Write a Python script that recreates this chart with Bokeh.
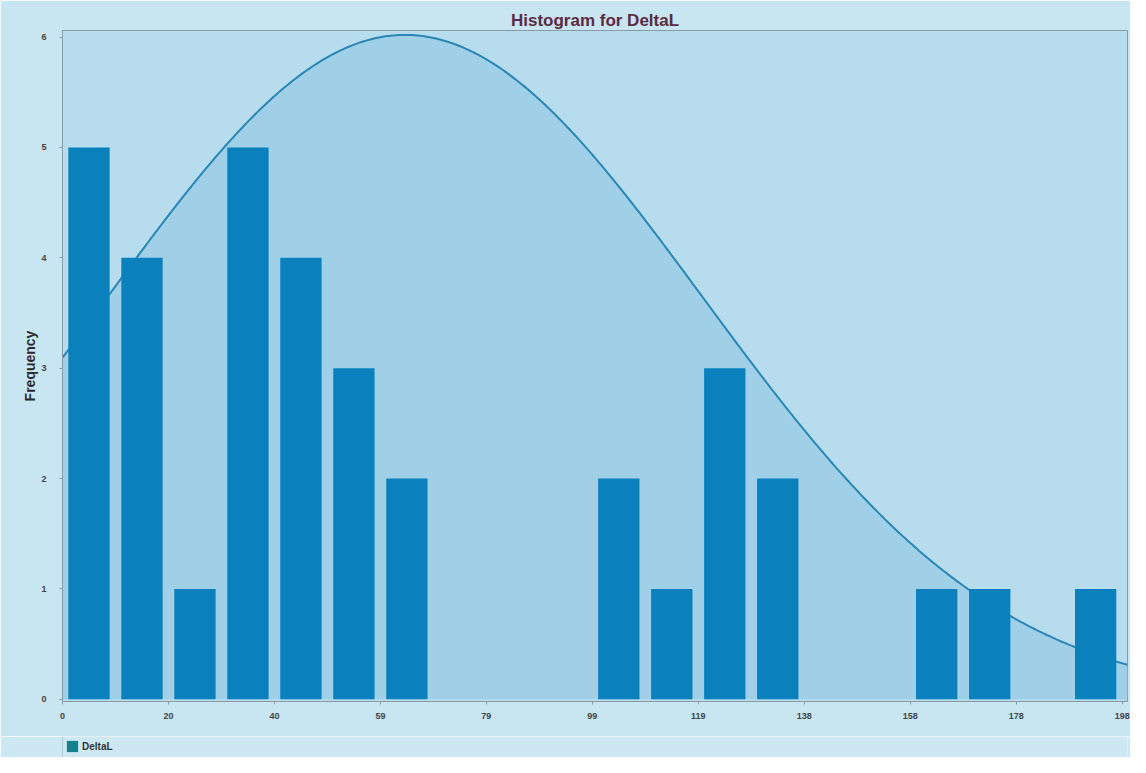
import numpy as np
from bokeh.plotting import figure
from bokeh.layouts import column
from bokeh.models import FixedTicker, Legend, LegendItem, Range1d, Title
from bokeh.embed import file_html
from bokeh.resources import INLINE

# ---- data ----
bin_width = 9.9
counts = [5, 4, 1, 5, 4, 3, 2, 0, 0, 0, 2, 1, 3, 2, 0, 0, 1, 1, 0, 1]
x_tick_values = [0, 19.8, 39.6, 59.4, 79.2, 99, 118.8, 138.6, 158.4, 178.2, 198]
x_tick_labels = ["0", "20", "40", "59", "79", "99", "119", "138", "158", "178", "198"]
y_tick_values = [0, 1, 2, 3, 4, 5, 6]
# fitted normal curve (as drawn)
curve_mean = 64.0
curve_sd = 55.5
curve_peak = 6.02
series_name = "DeltaL"

bin_left = [i * bin_width for i in range(len(counts))]
bin_center = [b + bin_width / 2 for b in bin_left]

cx = np.linspace(0, 199, 400)
cy = curve_peak * np.exp(-((cx - curve_mean) ** 2) / (2 * curve_sd ** 2))

BORDER = "#c8e6f2"
STRIP = "#cde8f3"

p = figure(width=1130, height=736, output_backend="svg", toolbar_location=None,
           x_range=Range1d(0, 199), y_range=Range1d(-0.02, 6.06),
           min_border_left=62, min_border_right=3, min_border_top=30, min_border_bottom=35)

p.background_fill_color = "#b7dcee"
p.border_fill_color = BORDER
p.outline_line_color = "#8a9aa4"
p.outline_line_width = 1
p.xgrid.visible = False
p.ygrid.visible = False

t = Title(text="Histogram for DeltaL", align="center", text_font="Liberation Sans",
          text_font_size="17px", text_font_style="bold", text_color="#5a2b3e",
          offset=0, standoff=2)
p.add_layout(t, "above")

# area under the fitted curve
p.varea(x=cx, y1=0, y2=cy, fill_color="#a0d0e7", fill_alpha=1.0)
p.line(cx, cy, line_color="#2a86b5", line_width=2)

# bars
bars = p.vbar(x=bin_center, top=counts, width=bin_width * 0.78, bottom=0,
              fill_color="#0a80bd", line_color=None)

# axes
p.xaxis.ticker = FixedTicker(ticks=x_tick_values)
p.xaxis.major_label_overrides = {v: l for v, l in zip(x_tick_values, x_tick_labels)}
p.yaxis.ticker = FixedTicker(ticks=y_tick_values)
for ax in (p.xaxis, p.yaxis):
    ax.axis_line_color = "#8a9aa4"
    ax.major_tick_line_color = "#8a9aa4"
    ax.major_tick_out = 3
    ax.major_tick_in = 0
    ax.minor_tick_line_color = None
    ax.major_label_text_font = "Liberation Sans"
    ax.major_label_text_font_size = "9px"
    ax.major_label_text_font_style = "bold"
    ax.major_label_text_color = "#444444"
p.xaxis.major_label_standoff = 8
p.yaxis.major_label_standoff = 13
p.yaxis.axis_label = "Frequency"
p.yaxis.axis_label_text_font = "Liberation Sans"
p.yaxis.axis_label_text_font_size = "14px"
p.yaxis.axis_label_text_font_style = "bold"
p.yaxis.axis_label_text_color = "#2a2a2a"
p.yaxis.axis_label_standoff = 0

# legend strip below the chart
lg = figure(width=1130, height=21, output_backend="svg", toolbar_location=None,
            x_range=Range1d(0, 1), y_range=Range1d(0, 1),
            min_border=0, min_border_left=0, min_border_right=0,
            min_border_top=0, min_border_bottom=0)
lg.axis.visible = False
lg.grid.visible = False
lg.outline_line_color = None
lg.background_fill_color = STRIP
lg.border_fill_color = STRIP
swatch = lg.vbar(x=[-10], top=[1], bottom=[0], width=1, fill_color="#17808c", line_color=None)
legend = Legend(items=[LegendItem(label=series_name, renderers=[swatch])],
                location=(3, 4), orientation="horizontal",
                background_fill_alpha=0, border_line_color=None,
                label_text_font="Liberation Sans", label_text_font_size="10px",
                label_text_font_style="bold", label_text_color="#333333",
                glyph_width=14, glyph_height=14, padding=1, margin=0,
                label_standoff=3, label_height=14)
lg.add_layout(legend, "center")

page = column(p, lg, spacing=0)
open("out.html", "w").write(file_html(page, INLINE))
